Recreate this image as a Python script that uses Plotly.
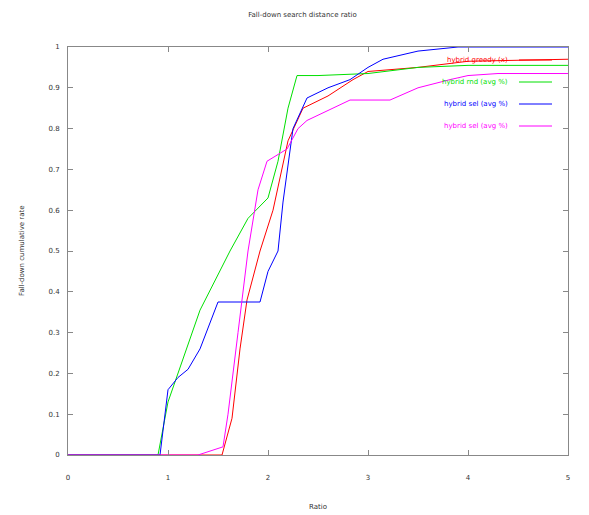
import plotly.graph_objects as go

title_text = "Fall-down search distance ratio"
x_label = "Ratio"
y_label = "Fall-down cumulative rate"

series_names = ["hybrid greedy (x)", "hybrid rnd (avg %)", "hybrid sel (avg %)", "hybrid sel (avg %)"]
series_colors = ["#ff0000", "#00e000", "#0000ff", "#ff00ff"]

red_x = [0, 1.54, 1.64, 1.72, 1.79, 1.92, 2.05, 2.2, 2.35, 2.6, 2.85, 3.0, 3.5, 4.0, 5]
red_y = [0, 0, 0.09, 0.26, 0.38, 0.5, 0.6, 0.77, 0.85, 0.88, 0.92, 0.94, 0.95, 0.965, 0.97]

green_x = [0, 0.9, 1.0, 1.1, 1.32, 1.62, 1.8, 2.0, 2.1, 2.2, 2.29, 2.5, 3.0, 3.5, 4.0, 5]
green_y = [0, 0, 0.13, 0.2, 0.355, 0.5, 0.58, 0.63, 0.72, 0.85, 0.93, 0.93, 0.935, 0.95, 0.955, 0.955]

blue_x = [0, 0.92, 1.0, 1.1, 1.2, 1.32, 1.5, 1.92, 2.0, 2.1, 2.15, 2.25, 2.39, 2.6, 2.82, 3.0, 3.15, 3.5, 3.9, 5]
blue_y = [0, 0, 0.16, 0.19, 0.21, 0.26, 0.375, 0.375, 0.45, 0.5, 0.62, 0.8, 0.875, 0.9, 0.92, 0.95, 0.97, 0.99, 1.0, 1.0]

magenta_x = [0, 1.3, 1.55, 1.6, 1.7, 1.8, 1.9, 1.99, 2.19, 2.3, 2.39, 2.82, 3.22, 3.5, 3.82, 4.0, 4.3, 5]
magenta_y = [0, 0, 0.02, 0.1, 0.3, 0.5, 0.65, 0.72, 0.75, 0.8, 0.82, 0.87, 0.87, 0.9, 0.92, 0.93, 0.935, 0.935]

x_ticks = [0, 1, 2, 3, 4, 5]
y_ticks = [0, 0.1, 0.2, 0.3, 0.4, 0.5, 0.6, 0.7, 0.8, 0.9, 1]
y_tick_labels = ["0", "0.1", "0.2", "0.3", "0.4", "0.5", "0.6", "0.7", "0.8", "0.9", "1"]

xs = [red_x, green_x, blue_x, magenta_x]
ys = [red_y, green_y, blue_y, magenta_y]

fig = go.Figure()
for name, color, x, y in zip(series_names, series_colors, xs, ys):
    fig.add_trace(go.Scatter(x=x, y=y, mode="lines", name=name,
                             line=dict(color=color, width=1), showlegend=False))

# screen-space plot box (page has an 8px body margin)
L, T, W, H = 68, 47, 500, 408
for i, (name, color) in enumerate(zip(series_names, series_colors)):
    ypix = 60 + i * 22
    yp = 1 - (ypix - T) / H
    fig.add_annotation(xref="paper", yref="paper", x=(510 - L) / W, y=yp,
                       text=name, showarrow=False, xanchor="right", yanchor="middle",
                       font=dict(size=7, color=color, family="DejaVu Sans"))
    fig.add_shape(type="line", xref="paper", yref="paper",
                  x0=(519 - L) / W, x1=(552 - L) / W, y0=yp, y1=yp,
                  line=dict(color=color, width=1))

fig.add_annotation(xref="paper", yref="paper", x=0.5, y=-(507 - (T + H)) / H,
                   text=x_label, showarrow=False, xanchor="center", yanchor="middle",
                   font=dict(size=7, color="#333333", family="DejaVu Sans"))
fig.add_annotation(xref="paper", yref="paper", x=-(L - 22) / W, y=0.5,
                   text=y_label, showarrow=False, xanchor="center", yanchor="middle",
                   textangle=-90, font=dict(size=7, color="#333333", family="DejaVu Sans"))

axis_common = dict(showgrid=False, zeroline=False, showline=True, linecolor="#888888",
                   linewidth=1, mirror="allticks", ticks="inside", ticklen=5,
                   tickcolor="#888888", automargin=False,
                   tickfont=dict(size=7, color="#333333", family="DejaVu Sans"))

fig.update_layout(
    width=589, height=515,
    margin=dict(l=60, r=29, t=39, b=68),
    paper_bgcolor="white", plot_bgcolor="white",
    title=dict(text=title_text, x=0.5, xanchor="center", y=1 - 7 / 515, yanchor="middle",
               font=dict(size=7, color="#333333", family="DejaVu Sans")),
    xaxis=dict(range=[0, 5], tickvals=x_ticks, ticktext=[str(v) for v in x_ticks],
               ticklabelstandoff=16, **axis_common),
    yaxis=dict(range=[0, 1], tickvals=y_ticks, ticktext=y_tick_labels,
               ticklabelstandoff=6, **axis_common),
)

fig.write_html("out.html")
